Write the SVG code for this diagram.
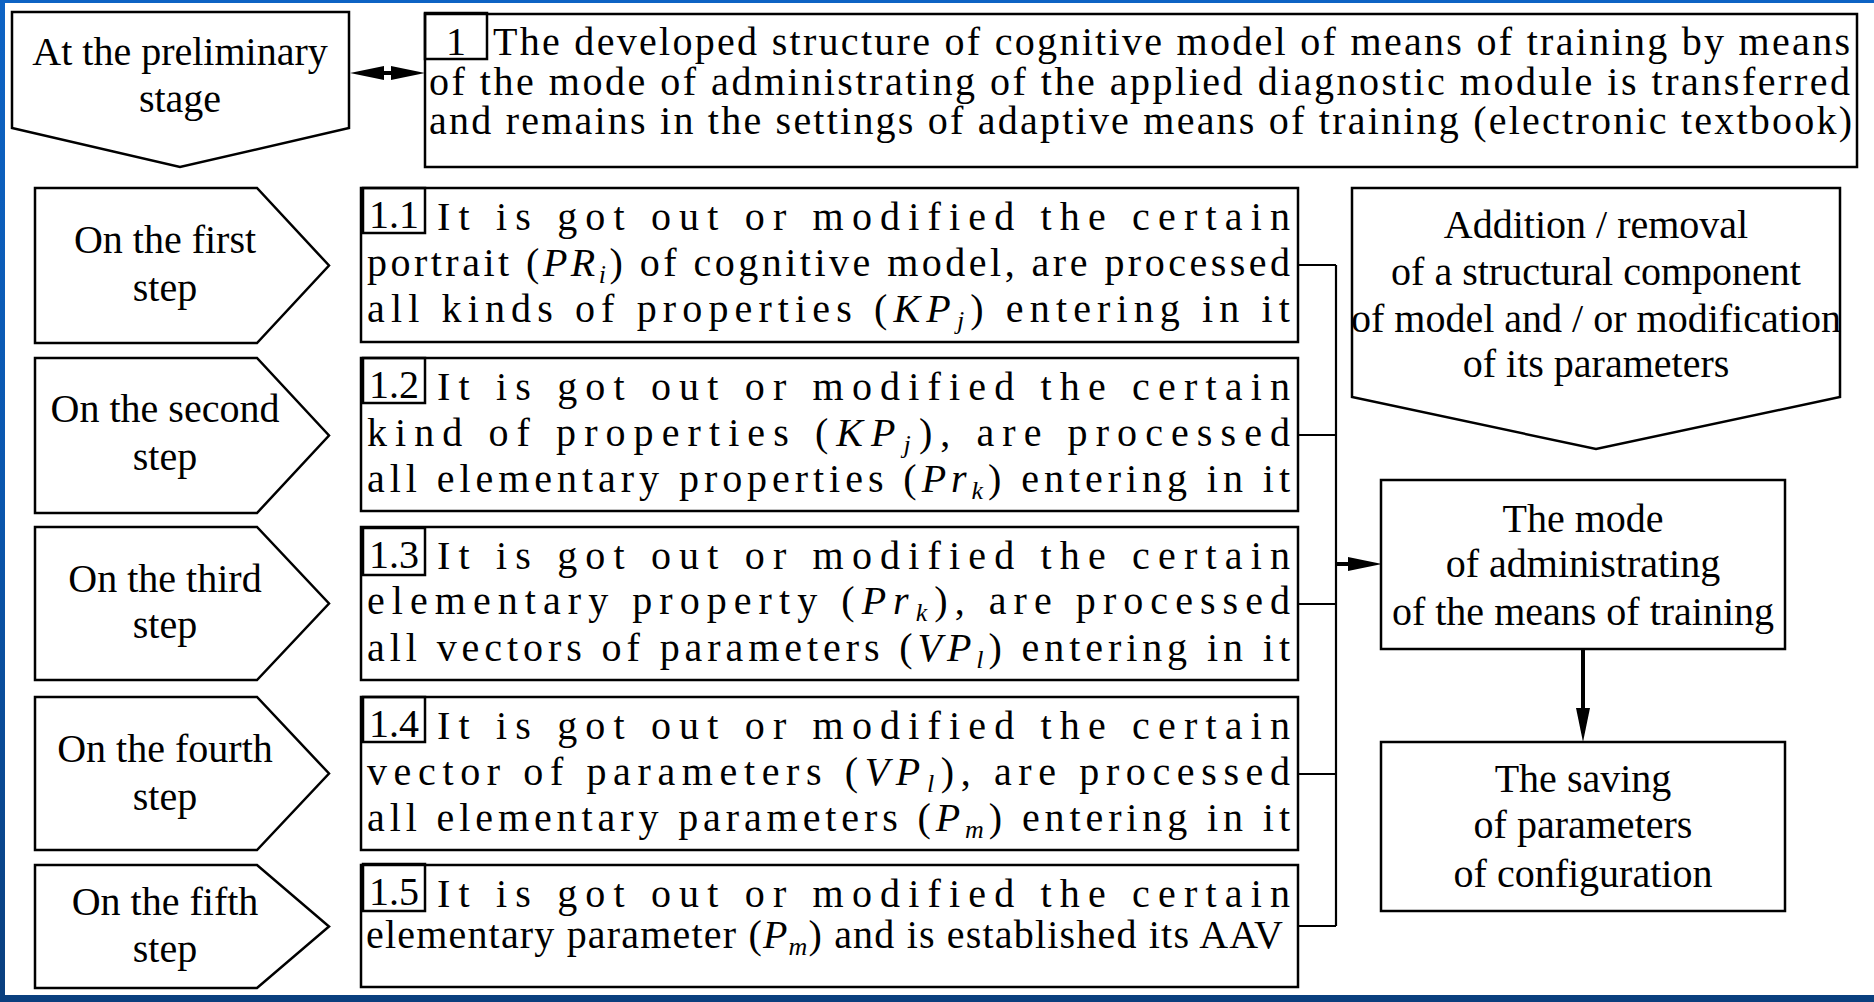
<svg xmlns="http://www.w3.org/2000/svg" width="1874" height="1002" viewBox="0 0 1874 1002" font-family="'Liberation Serif', Tinos, 'DejaVu Serif', serif">
<defs>
<linearGradient id="bg" x1="0" y1="0" x2="0" y2="1">
<stop offset="0" stop-color="#0d63c4"/>
<stop offset="0.5" stop-color="#0a56ad"/>
<stop offset="1" stop-color="#0a3f7e"/>
</linearGradient>
<marker id="arr" viewBox="0 0 34 14" markerWidth="34" markerHeight="14" refX="4" refY="7" orient="auto-start-reverse" markerUnits="userSpaceOnUse">
<path d="M0,0 L34,7 L0,14 Z" fill="#000"/>
</marker>
</defs>
<style>
.sh{fill:#fff;stroke:#000;stroke-width:2.5}
.nb{fill:none;stroke:#000;stroke-width:2.5}
.t{font-family:'Liberation Serif', Tinos, 'DejaVu Serif', serif;font-size:40px;fill:#000}
.c{text-anchor:middle}
.it{font-style:italic}
.sub{font-style:italic;font-size:26px}
.ln{fill:none;stroke:#000;stroke-width:2.2}
.ar{fill:none;stroke:#000;stroke-width:4;marker-end:url(#arr)}
</style>
<rect x="0" y="0" width="1874" height="1002" fill="url(#bg)"/>
<rect x="5" y="3" width="1869" height="992" fill="#fff"/>

<g id="connectors">
<path class="ln" d="M1298,265 H1336 M1298,435 H1336 M1298,604 H1336 M1298,774 H1336 M1298,926 H1336 M1336,265 V926"/>
<line class="ar" x1="1336" y1="564" x2="1352" y2="564"/>
<line class="ar" x1="1583" y1="649" x2="1583" y2="712"/>
<line class="ar" x1="380" y1="73" x2="395" y2="73" style="marker-start:url(#arr)"/>
</g>

<g id="prelim">
<polygon class="sh" points="12,12 349,12 349,128 180,167 12,128"/>
<text class="t c" x="180" y="65">At the preliminary</text>
<text class="t c" x="180" y="112">stage</text>
</g>

<g id="box1">
<rect class="sh" x="425" y="14" width="1432" height="153"/>
<rect class="nb" x="425" y="13" width="62" height="46"/>
<text class="t c" x="456" y="55">1</text>
<text class="t" x="493" y="55" textLength="1357" lengthAdjust="spacing">The developed structure of cognitive model of means of training by means</text>
<text class="t" x="429" y="95" textLength="1421" lengthAdjust="spacing">of the mode of administrating of the applied diagnostic module is transferred</text>
<text class="t" x="429" y="134" textLength="1423" lengthAdjust="spacing">and remains in the settings of adaptive means of training (electronic textbook)</text>
</g>

<g id="step1">
<polygon class="sh" points="35,188 257,188 329,265.5 257,343 35,343"/>
<text class="t c" x="165" y="253">On the first</text>
<text class="t c" x="165" y="301">step</text>
</g>
<g id="step2">
<polygon class="sh" points="35,358 257,358 329,435.5 257,513 35,513"/>
<text class="t c" x="165" y="422">On the second</text>
<text class="t c" x="165" y="470">step</text>
</g>
<g id="step3">
<polygon class="sh" points="35,527 257,527 329,603.5 257,680 35,680"/>
<text class="t c" x="165" y="592">On the third</text>
<text class="t c" x="165" y="638">step</text>
</g>
<g id="step4">
<polygon class="sh" points="35,697 257,697 329,773.5 257,850 35,850"/>
<text class="t c" x="165" y="762">On the fourth</text>
<text class="t c" x="165" y="810">step</text>
</g>
<g id="step5">
<polygon class="sh" points="35,865 257,865 329,926.5 257,988 35,988"/>
<text class="t c" x="165" y="915">On the fifth</text>
<text class="t c" x="165" y="962">step</text>
</g>

<g id="box1_1">
<rect class="sh" x="361" y="188" width="937" height="154"/>
<rect class="nb" x="363" y="188" width="62" height="45"/>
<text class="t c" x="394" y="228">1.1</text>
<text class="t" x="437" y="230" textLength="853" lengthAdjust="spacing">It is got out or modified the certain</text>
<text class="t" x="367" y="276" textLength="923" lengthAdjust="spacing">portrait (<tspan class="it">PR</tspan><tspan class="sub" dy="7">i</tspan><tspan dy="-7">) of cognitive model, are processed</tspan></text>
<text class="t" x="367" y="322" textLength="923" lengthAdjust="spacing">all kinds of properties (<tspan class="it">KP</tspan><tspan class="sub" dy="7">j</tspan><tspan dy="-7">) entering in it</tspan></text>
</g>

<g id="box1_2">
<rect class="sh" x="361" y="358" width="937" height="153"/>
<rect class="nb" x="363" y="358" width="62" height="45"/>
<text class="t c" x="394" y="398">1.2</text>
<text class="t" x="437" y="400" textLength="853" lengthAdjust="spacing">It is got out or modified the certain</text>
<text class="t" x="367" y="446" textLength="923" lengthAdjust="spacing">kind of properties (<tspan class="it">KP</tspan><tspan class="sub" dy="7">j</tspan><tspan dy="-7">), are processed</tspan></text>
<text class="t" x="367" y="492" textLength="923" lengthAdjust="spacing">all elementary properties (<tspan class="it">Pr</tspan><tspan class="sub" dy="7">k</tspan><tspan dy="-7">) entering in it</tspan></text>
</g>

<g id="box1_3">
<rect class="sh" x="361" y="527" width="937" height="153"/>
<rect class="nb" x="363" y="528" width="62" height="47"/>
<text class="t c" x="394" y="568">1.3</text>
<text class="t" x="437" y="569" textLength="853" lengthAdjust="spacing">It is got out or modified the certain</text>
<text class="t" x="367" y="614" textLength="923" lengthAdjust="spacing">elementary property (<tspan class="it">Pr</tspan><tspan class="sub" dy="7">k</tspan><tspan dy="-7">), are processed</tspan></text>
<text class="t" x="367" y="661" textLength="923" lengthAdjust="spacing">all vectors of parameters (<tspan class="it">VP</tspan><tspan class="sub" dy="7">l</tspan><tspan dy="-7">) entering in it</tspan></text>
</g>

<g id="box1_4">
<rect class="sh" x="361" y="697" width="937" height="153"/>
<rect class="nb" x="363" y="697" width="62" height="45"/>
<text class="t c" x="394" y="737">1.4</text>
<text class="t" x="437" y="739" textLength="853" lengthAdjust="spacing">It is got out or modified the certain</text>
<text class="t" x="367" y="785" textLength="923" lengthAdjust="spacing">vector of parameters (<tspan class="it">VP</tspan><tspan class="sub" dy="7">l</tspan><tspan dy="-7">), are processed</tspan></text>
<text class="t" x="367" y="831" textLength="923" lengthAdjust="spacing">all elementary parameters (<tspan class="it">P</tspan><tspan class="sub" dy="7">m</tspan><tspan dy="-7">) entering in it</tspan></text>
</g>

<g id="box1_5">
<rect class="sh" x="361" y="865" width="937" height="122"/>
<rect class="nb" x="363" y="864" width="62" height="47"/>
<text class="t c" x="394" y="905">1.5</text>
<text class="t" x="437" y="907" textLength="853" lengthAdjust="spacing">It is got out or modified the certain</text>
<text class="t" x="366" y="948" textLength="917" lengthAdjust="spacing">elementary parameter (<tspan class="it">P</tspan><tspan class="sub" dy="7">m</tspan><tspan dy="-7">) and is established its AAV</tspan></text>
</g>

<g id="addition">
<polygon class="sh" points="1352,188 1840,188 1840,397 1596,449 1352,397"/>
<text class="t c" x="1596" y="238">Addition / removal</text>
<text class="t c" x="1596" y="285">of a structural component</text>
<text class="t c" x="1596" y="332">of model and / or modification</text>
<text class="t c" x="1596" y="377">of its parameters</text>
</g>

<g id="mode">
<rect class="sh" x="1381" y="480" width="404" height="169"/>
<text class="t c" x="1583" y="532">The mode</text>
<text class="t c" x="1583" y="577">of administrating</text>
<text class="t c" x="1583" y="625">of the means of training</text>
</g>

<g id="saving">
<rect class="sh" x="1381" y="742" width="404" height="169"/>
<text class="t c" x="1583" y="792">The saving</text>
<text class="t c" x="1583" y="838">of parameters</text>
<text class="t c" x="1583" y="887">of configuration</text>
</g>
</svg>
